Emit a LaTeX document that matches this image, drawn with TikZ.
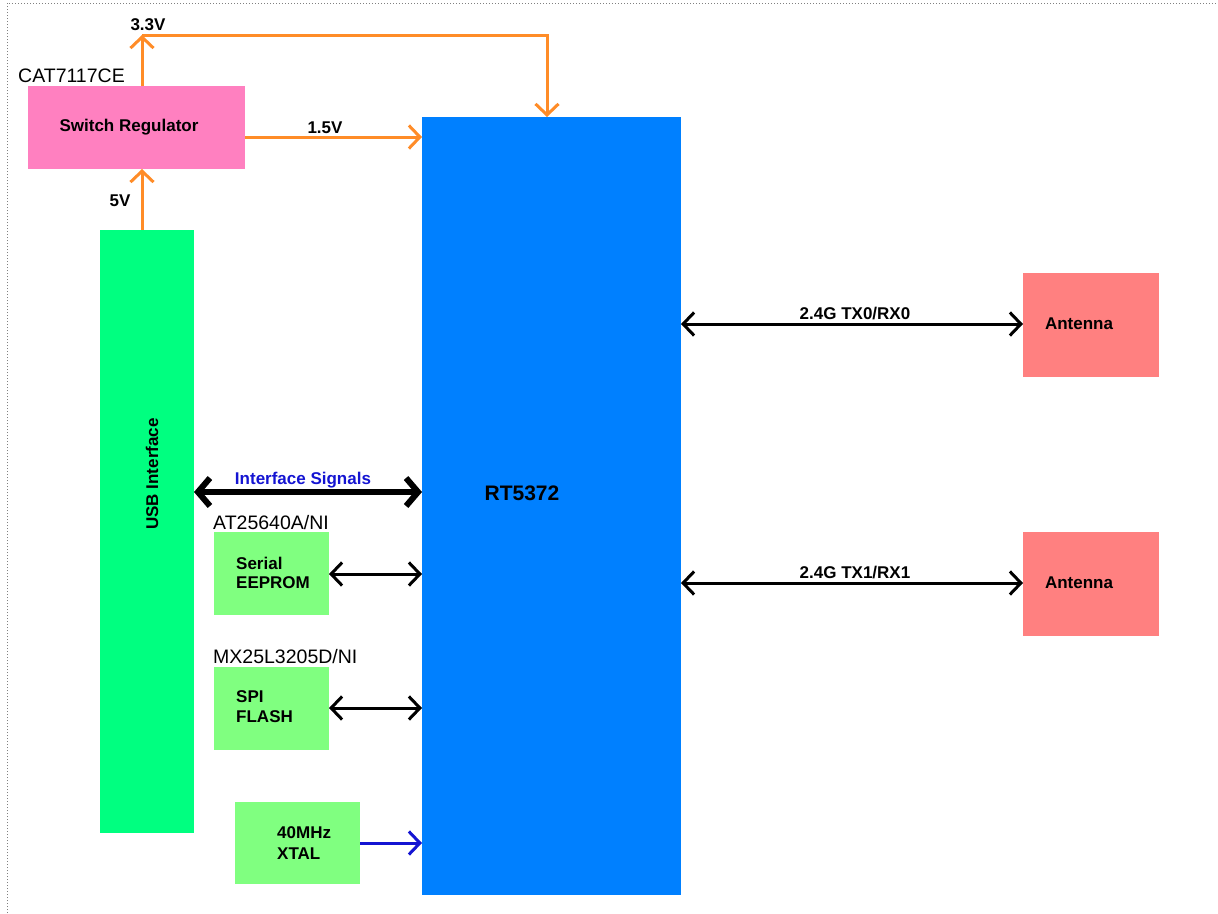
\documentclass[tikz,border=0pt]{standalone}
\usepackage{fontspec}
\setmainfont{Liberation Sans}
\usetikzlibrary{arrows.meta}
\definecolor{orng}{RGB}{255,140,40}
\definecolor{pinkc}{RGB}{255,128,192}
\definecolor{usbg}{RGB}{0,255,128}
\definecolor{rtblue}{RGB}{0,128,255}
\definecolor{ltg}{RGB}{128,255,128}
\definecolor{salm}{RGB}{255,128,128}
\definecolor{dblue}{RGB}{20,20,210}
\begin{document}
\begin{tikzpicture}[x=1pt,y=-1pt,
  barb/.tip={Straight Barb[length=11pt,width=23pt]},
  bigbarb/.tip={Straight Barb[length=12pt,width=28pt]},
  blk/.style={inner sep=0pt,outer sep=0pt,anchor=north west,draw=none},
  bl/.style={font=\fontsize{17}{20}\selectfont\bfseries,inner sep=0pt},
  rl/.style={font=\fontsize{19.5}{22}\selectfont,inner sep=0pt},
  pw/.style={draw=orng,line width=3pt,-barb},
  sig/.style={draw=black,line width=3pt,barb-barb},
  bus/.style={draw=black,line width=6pt,bigbarb-bigbarb},
  clk/.style={draw=dblue,line width=3pt,-barb}]
\useasboundingbox (0,0) rectangle (1218,913);
% frame
\draw[gray,dotted,line width=1pt] (7,913) -- (7,3) -- (1218,3);
% blocks
\node[blk,fill=pinkc,minimum width=217pt,minimum height=83pt] (sr) at (28,86) {};
\node[blk,fill=usbg,minimum width=94pt,minimum height=603pt] (usb) at (100,230) {};
\node[blk,fill=rtblue,minimum width=259pt,minimum height=778pt] (rt) at (422,117) {};
\node[blk,fill=ltg,minimum width=115pt,minimum height=83pt] (ee) at (214,532) {};
\node[blk,fill=ltg,minimum width=115pt,minimum height=83pt] (spi) at (214,667) {};
\node[blk,fill=ltg,minimum width=125pt,minimum height=82pt] (xt) at (235,802) {};
\node[blk,fill=salm,minimum width=136pt,minimum height=104pt] (a1) at (1023,273) {};
\node[blk,fill=salm,minimum width=136pt,minimum height=104pt] (a2) at (1023,532) {};
% texts in blocks
\node[bl] (srt) at (129,127) {Switch Regulator};
\node[bl,rotate=90] (usbt) at (152,474) {USB Interface};
\node[bl,font=\fontsize{21}{24}\selectfont\bfseries] (rtt) at (522,493) {RT5372};
\node[bl,anchor=west,align=left,font=\fontsize{17}{19.5}\selectfont\bfseries] (eet) at (236,573) {Serial\\EEPROM};
\node[bl,anchor=west,align=left,font=\fontsize{17}{20}\selectfont\bfseries] (spit) at (236,707) {SPI\\FLASH};
\node[bl,anchor=west,align=left,font=\fontsize{17}{21}\selectfont\bfseries] (xtt) at (277,843) {40MHz\\XTAL};
\node[bl] (a1t) at (1079,324) {Antenna};
\node[bl] (a2t) at (1079,583) {Antenna};
% part labels
\node[rl,anchor=west] (catl) at (18,76) {CAT7117CE};
\node[rl,anchor=west] (atl) at (213,523) {AT25640A/NI};
\node[rl,anchor=west] (mxl) at (213,657) {MX25L3205D/NI};
% coordinates
\coordinate (c33) at (142,35);
\coordinate (c33b) at (547,35);
\coordinate (c15) at (0,137);
\coordinate (cbus) at (0,492);
\coordinate (cee) at (0,574);
\coordinate (cspi) at (0,708);
\coordinate (cxt) at (0,843);
\coordinate (ct0) at (0,324);
\coordinate (ct1) at (0,583);
% power
\draw[pw] (sr.north -| c33) -- (c33);
\draw[pw,line join=miter] (c33) -- (c33b) -- (c33b |- rt.north);
\draw[pw] (sr.east |- c15) -- (rt.west |- c15);
\draw[pw] (usb.north -| c33) -- (sr.south -| c33);
% signals
\draw[bus] (usb.east |- cbus) -- (rt.west |- cbus);
\draw[sig] (ee.east |- cee) -- (rt.west |- cee);
\draw[sig] (spi.east |- cspi) -- (rt.west |- cspi);
\draw[clk] (xt.east |- cxt) -- (rt.west |- cxt);
\draw[sig] (rt.east |- ct0) -- (a1.west |- ct0);
\draw[sig] (rt.east |- ct1) -- (a2.west |- ct1);
% connector labels
\node[bl] (l33) at (148,25) {3.3V};
\node[bl] (l15) at (325,128) {1.5V};
\node[bl] (l5) at (120,201) {5V};
\node[bl,text=dblue] (lbus) at (303,480) {Interface Signals};
\node[bl] (lt0) at (855,314) {2.4G TX0/RX0};
\node[bl] (lt1) at (855,573) {2.4G TX1/RX1};
\end{tikzpicture}
\end{document}
